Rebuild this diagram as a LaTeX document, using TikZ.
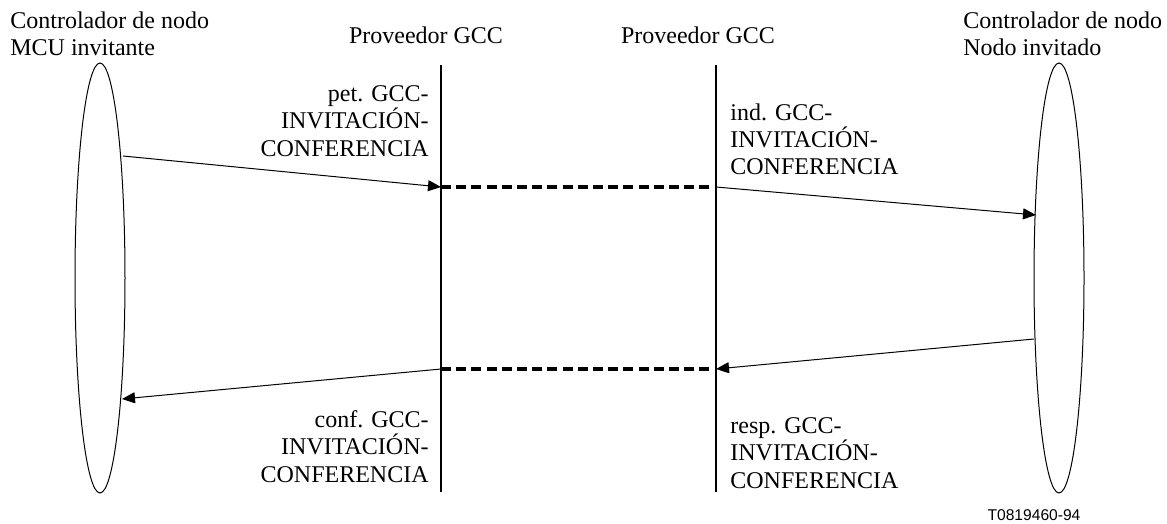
\documentclass[tikz,border=0pt]{standalone}
\usepackage{fontspec}
\setmainfont{Liberation Serif}
\newfontfamily\labelsans{Liberation Sans}
\usetikzlibrary{arrows.meta,shapes.geometric}
\tikzset{
  actor/.style={draw, ellipse, line width=0.5pt, minimum width=25pt, minimum height=215pt, inner sep=0pt},
  lifeline/.style={line width=1pt},
  msg/.style={line width=0.5pt, -{Triangle[length=6.5pt,width=5.5pt]}},
  link/.style={line width=1.6pt, dash pattern=on 5pt off 2.6pt},
  txt/.style={inner sep=0pt, font=\fontsize{12}{13.75}\selectfont},
  ref/.style={inner sep=0pt, font=\labelsans\fontsize{7.8}{9}\selectfont}
}
\begin{document}
\begin{tikzpicture}[x=0.5pt,y=-0.5pt]
\useasboundingbox (0,0) rectangle (1167,524);
% actors
\node[actor] (L) at (100,278) {};
\node[actor] (R) at (1059,278) {};
% lifelines
\coordinate (P1t) at (441,65);
\coordinate (P1b) at (441,492);
\coordinate (P2t) at (716,65);
\coordinate (P2b) at (716,492);
\draw[lifeline] (P1t) -- (P1b);
\draw[lifeline] (P2t) -- (P2b);
% message points
\coordinate (a1s) at (123,156);
\coordinate (a1e) at (441,187);
\coordinate (a2s) at (716,187);
\coordinate (a2e) at (1036,215);
\coordinate (a3s) at (1034,339);
\coordinate (a3e) at (716,369);
\coordinate (a4s) at (441,369);
\coordinate (a4e) at (122,399);
\draw[msg] (a1s) -- (a1e);
\draw[link] (a1e) -- (a2s);
\draw[msg] (a2s) -- (a2e);
\draw[msg] (a3s) -- (a3e);
\draw[link] (a4s) -- (a3e);
\draw[msg] (a4s) -- (a4e);
% headings (base anchor = baseline of last line)
\node[txt, anchor=base west, align=left] (hL) at (10,56) {Controlador de nodo\\MCU invitante};
\node[txt, anchor=base west, align=left] (hR) at (963,56) {Controlador de nodo\\Nodo invitado};
\node[txt, anchor=base] (hP1) at (426,44) {Proveedor GCC};
\node[txt, anchor=base] (hP2) at (698,44) {Proveedor GCC};
% labels
\node[txt, anchor=base east, align=right] (l1) at (429,156) {pet. GCC-\\INVITACIÓN-\\CONFERENCIA};
\node[txt, anchor=base west, align=left] (l2) at (730,175) {ind. GCC-\\INVITACIÓN-\\CONFERENCIA};
\node[txt, anchor=base east, align=right] (l3) at (429,482) {conf. GCC-\\INVITACIÓN-\\CONFERENCIA};
\node[txt, anchor=base west, align=left] (l4) at (730,488) {resp. GCC-\\INVITACIÓN-\\CONFERENCIA};
\node[ref, anchor=base] (id) at (1034,520) {T0819460-94};
\end{tikzpicture}
\end{document}
